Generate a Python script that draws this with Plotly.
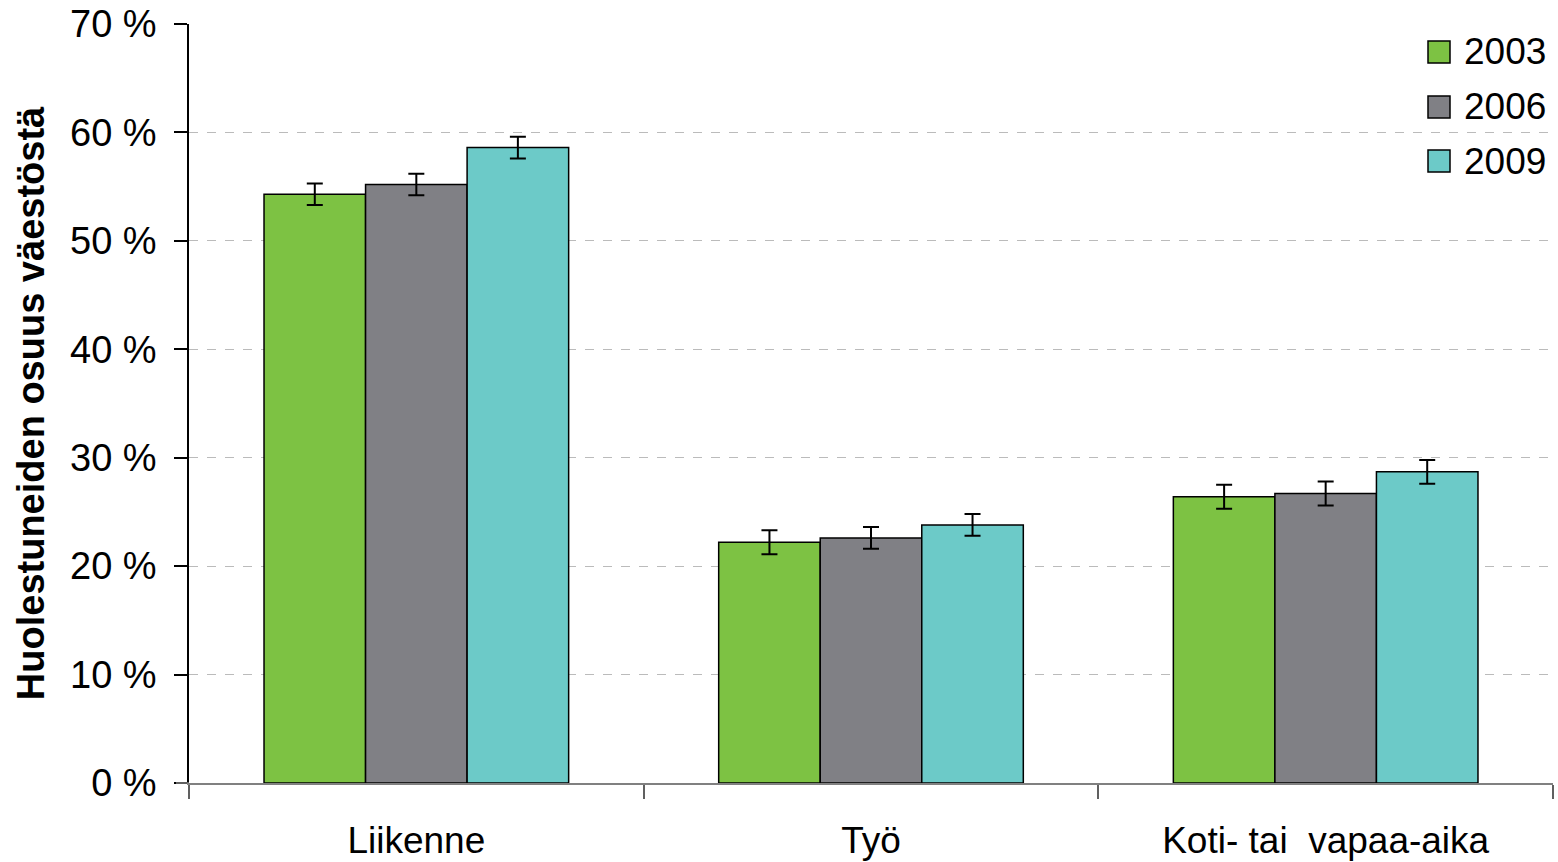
import plotly.graph_objects as go

categories = ["Liikenne", "Työ", "Koti- tai  vapaa-aika"]
years = ["2003", "2006", "2009"]
values_2003 = [54.3, 22.2, 26.4]
values_2006 = [55.2, 22.6, 26.7]
values_2009 = [58.6, 23.8, 28.7]
err_2003 = [1.0, 1.1, 1.1]
err_2006 = [1.0, 1.0, 1.1]
err_2009 = [1.0, 1.0, 1.1]
colors = ["#7DC243", "#808085", "#6CCAC8"]

series = [values_2003, values_2006, values_2009]
errors = [err_2003, err_2006, err_2009]

fig = go.Figure()
for yr, vals, errs, col in zip(years, series, errors, colors):
    fig.add_trace(go.Bar(
        x=categories, y=vals, name=yr, showlegend=False,
        marker=dict(color=col, line=dict(color="#000000", width=1.5)),
        error_y=dict(type="data", array=errs, visible=True, color="#000000",
                     thickness=2, width=8),
    ))

font = "Liberation Sans, Arial, sans-serif"

W, H = 1558, 862
ml, mr, mt, mb = 189, 5, 24, 79
pw = W - ml - mr
ph = H - mt - mb

shapes = []
annotations = []
# legend drawn with shapes + text
leg_centers_px = [52, 107, 161]
for yr, col, cy in zip(years, colors, leg_centers_px):
    y_rel = 1 - (cy - mt) / ph
    half = 11 / ph
    x0 = (1428 - ml) / pw
    x1 = (1450 - ml) / pw
    shapes.append(dict(type="rect", xref="paper", yref="paper",
                       x0=x0, x1=x1, y0=y_rel - half, y1=y_rel + half,
                       fillcolor=col, line=dict(color="#000000", width=1.5)))
    annotations.append(dict(xref="paper", yref="paper", x=(1462 - ml) / pw,
                            y=y_rel, text=yr, showarrow=False, xanchor="left",
                            yanchor="middle", font=dict(size=37, family=font)))
# x-axis line extends left past the y-axis
shapes.append(dict(type="line", xref="paper", yref="paper",
                   x0=-13 / pw, x1=0, y0=0, y1=0,
                   line=dict(color="#808080", width=1.5)))

fig.update_layout(
    width=W, height=H,
    margin=dict(l=ml, r=mr, t=mt, b=mb, autoexpand=False),
    plot_bgcolor="white", paper_bgcolor="white",
    barmode="group", bargap=0.33, bargroupgap=0,
    font=dict(family=font, size=37, color="#000000"),
    showlegend=False,
    shapes=shapes, annotations=annotations,
    xaxis=dict(
        type="category", showline=True, linecolor="#808080", linewidth=1.5,
        ticks="outside", tickson="boundaries", ticklen=14, tickcolor="#606060",
        tickwidth=1.5, tickfont=dict(size=37, family=font), showgrid=False,
        ticklabelstandoff=24, automargin=False,
    ),
    yaxis=dict(
        range=[0, 70], dtick=10, ticksuffix=" %", showline=True,
        linecolor="#000000", linewidth=1.5, ticks="outside", ticklen=13,
        tickcolor="#000000", tickwidth=1.5, tickfont=dict(size=38, family=font),
        showgrid=True, gridcolor="#BBBBBB", griddash="dash", gridwidth=1,
        zeroline=False, ticklabelstandoff=10, ticklabeloverflow="allow",
        automargin=False,
        title=dict(text="<b>Huolestuneiden osuus väestöstä</b>",
                   font=dict(size=38, family=font), standoff=14),
    ),
)

fig.write_html("out.html", config={"displayModeBar": False},
               post_script="document.body.style.margin='0';document.body.style.overflow='hidden';")
